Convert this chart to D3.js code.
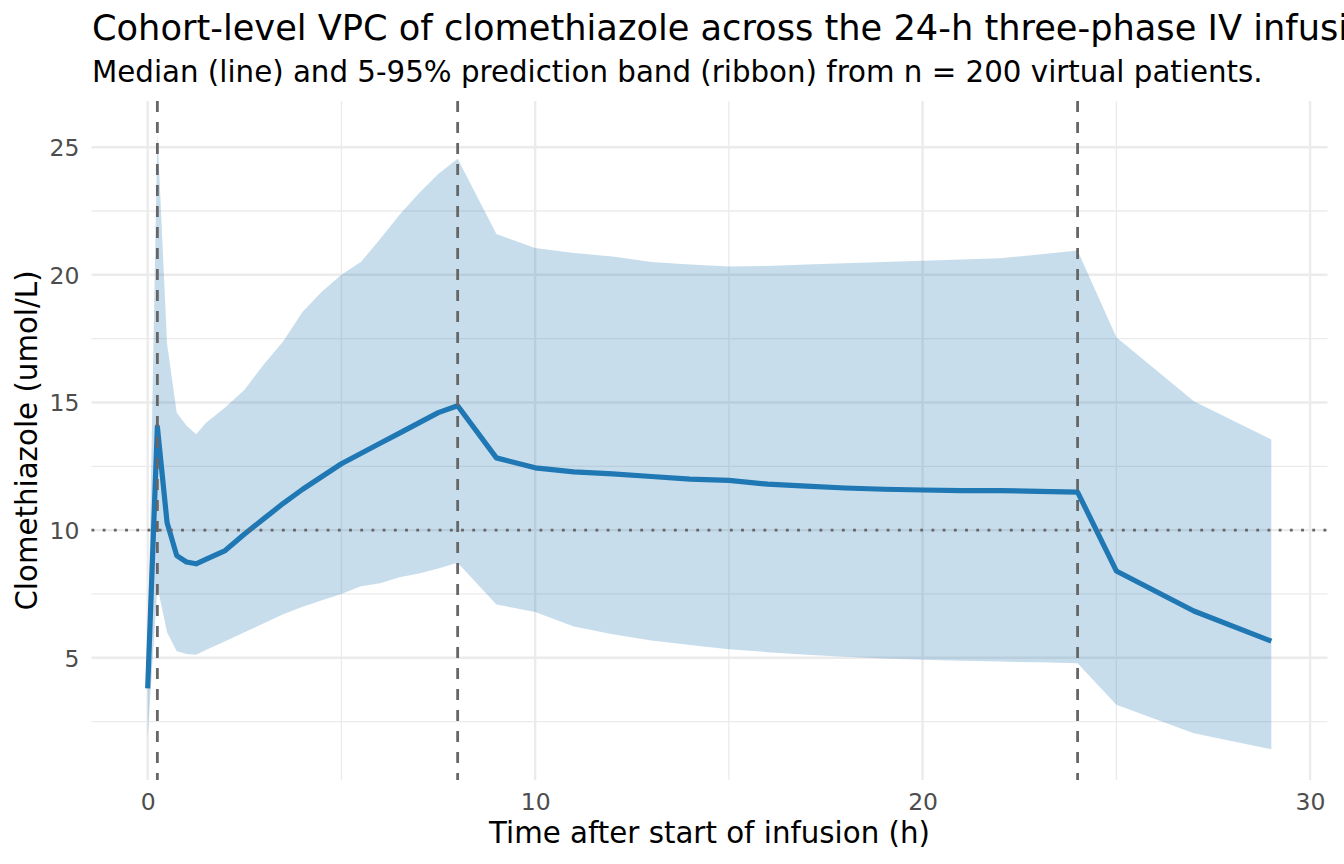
<!DOCTYPE html>
<html>
<head>
<meta charset="utf-8">
<script src="https://cdn.jsdelivr.net/npm/d3@7"></script>
<style>
  html, body { margin: 0; padding: 0; background: #ffffff; }
  svg { display: block; font-family: "DejaVu Sans", sans-serif; }
</style>
</head>
<body>
<svg id="chart" width="1344" height="864"></svg>
<script>
// ---- data ----
const times = [0, 0.25, 0.5, 0.75, 1, 1.25, 1.5, 2, 2.5, 3, 3.5, 4, 4.5, 5, 5.5, 6, 6.5, 7, 7.5, 8,
  9, 10, 11, 12, 13, 14, 15, 16, 17, 18, 19, 20, 21, 22, 23, 24, 25, 27, 29];
const median = [3.8, 14.05, 10.3, 9.0, 8.75, 8.68, 8.85, 9.2, 9.85, 10.45, 11.05, 11.6, 12.1, 12.6, 13.0, 13.4, 13.8, 14.2, 14.6, 14.87,
  12.83, 12.44, 12.28, 12.2, 12.1, 12.0, 11.95, 11.8, 11.72, 11.65, 11.6, 11.57, 11.55, 11.55, 11.52, 11.49, 8.4, 6.83, 5.65];
const upper95 = [5.0, 25.6, 17.3, 14.6, 14.1, 13.75, 14.2, 14.8, 15.5, 16.5, 17.4, 18.55, 19.35, 20.0, 20.5, 21.4, 22.35, 23.2, 23.95, 24.55,
  21.6, 21.05, 20.85, 20.72, 20.5, 20.4, 20.33, 20.35, 20.4, 20.45, 20.5, 20.55, 20.6, 20.65, 20.8, 20.95, 17.55, 15.05, 13.55];
const lower05 = [1.9, 7.8, 6.0, 5.25, 5.15, 5.12, 5.3, 5.65, 6.0, 6.35, 6.7, 7.0, 7.25, 7.5, 7.8, 7.92, 8.15, 8.3, 8.5, 8.72,
  7.09, 6.79, 6.22, 5.92, 5.68, 5.5, 5.33, 5.22, 5.12, 5.04, 4.97, 4.92, 4.88, 4.85, 4.82, 4.78, 3.16, 2.04, 1.42];
const phaseChanges = [0.25, 8, 24];
const threshold = [10];
const xTicks = [0, 10, 20, 30];
const xMinor = [5, 15, 25];
const yTicks = [5, 10, 15, 20, 25];
const yMinor = [2.5, 7.5, 12.5, 17.5, 22.5];

const titleText = "Cohort-level VPC of clomethiazole across the 24-h three-phase IV infusion";
const subtitleText = "Median (line) and 5-95% prediction band (ribbon) from n = 200 virtual patients.";
const xLabel = "Time after start of infusion (h)";
const yLabel = "Clomethiazole (umol/L)";

// ---- layout ----
const W = 1344, H = 864;
const panel = { left: 91.5, right: 1327.5, top: 101, bottom: 780 };

const rows = times.map((t, i) => ({ t, med: median[i], lo: lower05[i], hi: upper95[i] }));

function expand(ext, f) { const d = ext[1] - ext[0]; return [ext[0] - f * d, ext[1] + f * d]; }
const xDom = expand(d3.extent(times), 0.05);
const yDom = expand([d3.min(lower05), d3.max(upper95)], 0.05);

const x = d3.scaleLinear().domain(xDom).range([panel.left, panel.right]);
const y = d3.scaleLinear().domain(yDom).range([panel.bottom, panel.top]);

const svg = d3.select("#chart");

// grid
const grid = svg.append("g");
grid.selectAll(".ymin").data(yMinor).join("line")
  .attr("x1", panel.left).attr("x2", panel.right)
  .attr("y1", d => y(d)).attr("y2", d => y(d))
  .attr("stroke", "#ebebeb").attr("stroke-width", 1.3);
grid.selectAll(".xmin").data(xMinor).join("line")
  .attr("y1", panel.top).attr("y2", panel.bottom)
  .attr("x1", d => x(d)).attr("x2", d => x(d))
  .attr("stroke", "#ebebeb").attr("stroke-width", 1.3);
grid.selectAll(".ymaj").data(yTicks).join("line")
  .attr("x1", panel.left).attr("x2", panel.right)
  .attr("y1", d => y(d)).attr("y2", d => y(d))
  .attr("stroke", "#ebebeb").attr("stroke-width", 2.4);
grid.selectAll(".xmaj").data(xTicks).join("line")
  .attr("y1", panel.top).attr("y2", panel.bottom)
  .attr("x1", d => x(d)).attr("x2", d => x(d))
  .attr("stroke", "#ebebeb").attr("stroke-width", 2.4);

// ribbon
const area = d3.area().x(d => x(d.t)).y0(d => y(d.lo)).y1(d => y(d.hi));
svg.append("path").datum(rows).attr("d", area)
  .attr("fill", "#1f77b4").attr("fill-opacity", 0.25);

// median line
const line = d3.line().x(d => x(d.t)).y(d => y(d.med));
svg.append("path").datum(rows).attr("d", line)
  .attr("fill", "none").attr("stroke", "#1f77b4").attr("stroke-width", 5.2)
  .attr("stroke-linejoin", "round");

// reference lines
svg.append("g").selectAll("line").data(phaseChanges).join("line")
  .attr("x1", d => x(d)).attr("x2", d => x(d))
  .attr("y1", panel.top).attr("y2", panel.bottom)
  .attr("stroke", "#666666").attr("stroke-width", 2.8)
  .attr("stroke-dasharray", "11,10");
svg.append("g").selectAll("line").data(threshold).join("line")
  .attr("x1", panel.left).attr("x2", panel.right)
  .attr("y1", d => y(d)).attr("y2", d => y(d))
  .attr("stroke", "#666666").attr("stroke-width", 2.8)
  .attr("stroke-dasharray", "2.8,8.4");

// axes (text only, theme_minimal style)
const xAxis = d3.axisBottom(x).tickValues(xTicks).tickSize(0).tickPadding(0).tickFormat(d3.format("d"));
const gx = svg.append("g").attr("transform", `translate(0,${panel.bottom})`).call(xAxis);
gx.select(".domain").remove();
gx.selectAll("text").attr("y", 30).attr("dy", null)
  .attr("fill", "#4d4d4d").style("font-size", "23.5px").style("font-family", "DejaVu Sans");

const yAxis = d3.axisLeft(y).tickValues(yTicks).tickSize(0).tickPadding(0).tickFormat(d3.format("d"));
const gy = svg.append("g").attr("transform", `translate(${panel.left - 12},0)`).call(yAxis);
gy.select(".domain").remove();
gy.selectAll("text").attr("dy", "0.36em")
  .attr("fill", "#4d4d4d").style("font-size", "23.5px").style("font-family", "DejaVu Sans");

// axis titles
svg.append("text").attr("x", (panel.left + panel.right) / 2).attr("y", 843)
  .attr("text-anchor", "middle").attr("fill", "#000").style("font-size", "29.3px")
  .text(xLabel);
svg.append("text").attr("transform", `translate(37,${(panel.top + panel.bottom) / 2}) rotate(-90)`)
  .attr("text-anchor", "middle").attr("fill", "#000").style("font-size", "29.3px")
  .text(yLabel);

// titles
svg.append("text").attr("x", 92).attr("y", 40).attr("fill", "#000")
  .style("font-size", "35.2px").text(titleText);
svg.append("text").attr("x", 92).attr("y", 81.5).attr("fill", "#000")
  .style("font-size", "29.3px").text(subtitleText);
</script>
</body>
</html>
